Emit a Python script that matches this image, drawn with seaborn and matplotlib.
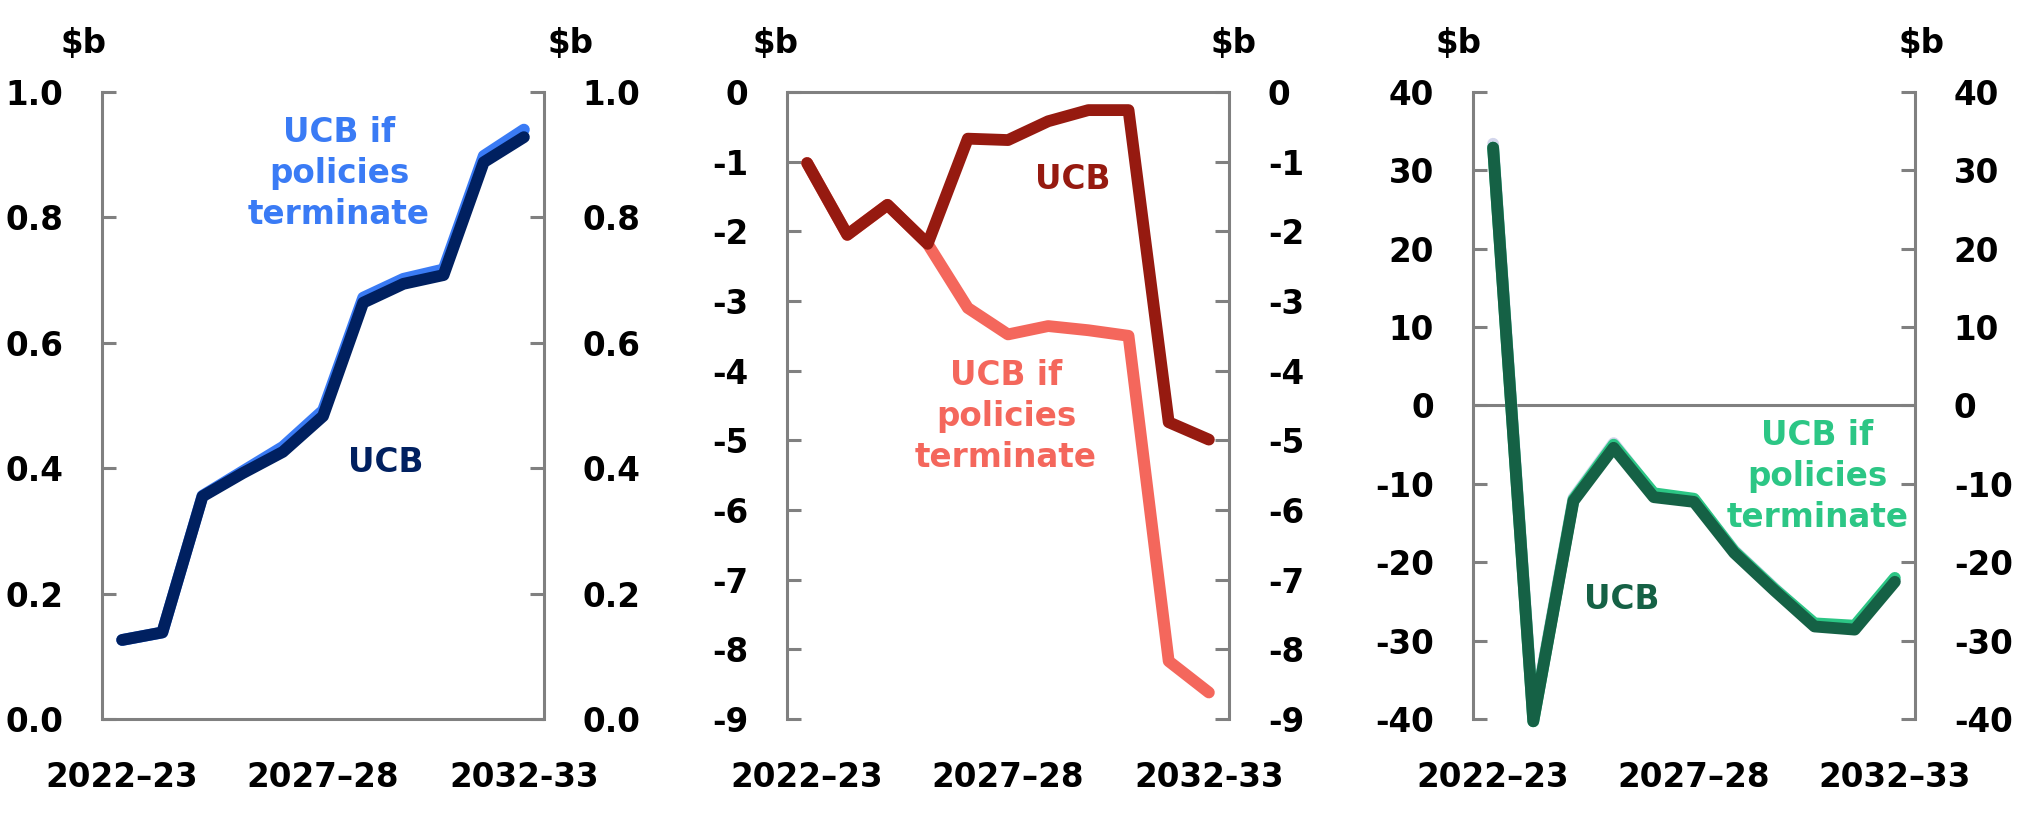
import matplotlib
matplotlib.use("Agg")
import matplotlib.pyplot as plt
import seaborn as sns
import numpy as np

# Data
years = list(range(11))
tick_pos = [0, 5, 10]
labels_a = ["2022–23", "2027–28", "2032-33"]
labels_c = ["2022–23", "2027–28", "2032–33"]

# Panel 1
p1_ucb = [0.126, 0.138, 0.355, 0.392, 0.426, 0.483, 0.664, 0.694, 0.708, 0.888, 0.928]
p1_term = [0.126, 0.138, 0.356, 0.395, 0.434, 0.492, 0.672, 0.702, 0.717, 0.898, 0.940]

# Panel 2
p2_ucb = [-1.02, -2.05, -1.62, -2.18, -0.67, -0.69, -0.42, -0.26, -0.26, -4.74, -4.99]
p2_term = [-1.02, -2.05, -1.62, -2.18, -3.10, -3.48, -3.36, -3.42, -3.50, -8.17, -8.62]

# Panel 3
p3_ucb = [32.9, -40.3, -12.2, -5.4, -11.7, -12.3, -18.8, -23.6, -28.2, -28.6, -22.5]
p3_term = [32.9, -40.3, -12.0, -5.0, -11.2, -11.9, -18.6, -23.4, -27.8, -28.1, -22.0]
p3_other = [33.4, -39.8, -11.8, -4.8, -11.3, -12.0, -18.5, -23.3, -28.0, -28.4, -22.3]

sns.set_style("white")
plt.rcParams["font.family"] = ["DejaVu Sans"]
plt.rcParams["font.weight"] = "bold"
plt.rcParams["axes.unicode_minus"] = False
plt.rcParams["text.color"] = "black"

FS = 23.5
GREY = "#808080"
LW = 8.5

fig = plt.figure(figsize=(20.17, 8.17), dpi=100)
lefts = [0.0506, 0.3902, 0.7303]
axes = [fig.add_axes([l, 0.12, 0.2191, 0.7674]) for l in lefts]


def draw(ax, y, color, z):
    sns.lineplot(x=years, y=y, ax=ax, color=color, linewidth=LW, zorder=z,
                 solid_capstyle="round", solid_joinstyle="round", clip_on=False)


def style_axis(ax, ylim, yticks, fmt, xlabels, spine_y):
    ax.set_xlim(-0.5, 10.5)
    ax.set_ylim(*ylim)
    ax.set_yticks(yticks)
    ax.set_yticklabels([fmt.format(v) for v in yticks])
    ax.set_xticks(tick_pos)
    ax.set_xticklabels(xlabels)
    for s in ["top", "bottom"]:
        ax.spines[s].set_visible(False)
    for s in ["left", "right"]:
        ax.spines[s].set_visible(True)
        ax.spines[s].set_color(GREY)
        ax.spines[s].set_linewidth(2.2)
    ax.axhline(spine_y, color=GREY, lw=2.2, zorder=1, clip_on=False)
    ax.tick_params(axis="y", which="both", direction="in", left=True, right=True,
                   labelleft=True, labelright=True, length=10, width=2.2,
                   color=GREY, labelcolor="black", pad=28, labelsize=FS)
    ax.tick_params(axis="x", length=0, pad=30, labelsize=FS, labelcolor="black")
    for lab in ax.get_xticklabels() + ax.get_yticklabels():
        lab.set_fontweight("bold")
    ax.set_xlabel("")
    ax.set_ylabel("")
    ax.grid(False)


def unit_labels(ax, xl, xr):
    ax.text(xl, 1.062, "$b", transform=ax.transAxes, ha="center", va="baseline",
            fontsize=FS, fontweight="bold")
    ax.text(xr, 1.062, "$b", transform=ax.transAxes, ha="center", va="baseline",
            fontsize=FS, fontweight="bold")


# Panel 1
ax = axes[0]
draw(ax, p1_term, "#3A7BF5", 3)
draw(ax, p1_ucb, "#002060", 4)
style_axis(ax, (0, 1.0), [0.0, 0.2, 0.4, 0.6, 0.8, 1.0], "{:.1f}", labels_a, 0)
ax.text(5.4, 0.87, "UCB if\npolicies\nterminate", ha="center", va="center",
        color="#3A7BF5", fontsize=FS, fontweight="bold", linespacing=1.3)
ax.text(6.55, 0.409, "UCB", ha="center", va="center", color="#002060",
        fontsize=FS, fontweight="bold")
unit_labels(ax, -0.042, 1.059)

# Panel 2
ax = axes[1]
draw(ax, p2_term, "#F4675C", 3)
draw(ax, p2_ucb, "#961A10", 4)
style_axis(ax, (-9, 0), list(range(-9, 1)), "{:d}", labels_a, 0)
ax.text(4.95, -4.66, "UCB if\npolicies\nterminate", ha="center", va="center",
        color="#F4675C", fontsize=FS, fontweight="bold", linespacing=1.3)
ax.text(6.6, -1.25, "UCB", ha="center", va="center", color="#961A10",
        fontsize=FS, fontweight="bold")
unit_labels(ax, -0.026, 1.01)

# Panel 3
ax = axes[2]
draw(ax, p3_other, "#D3D6EC", 2)
draw(ax, p3_term, "#2CC685", 3)
draw(ax, p3_ucb, "#156145", 4)
style_axis(ax, (-40, 40), list(range(-40, 41, 10)), "{:d}", labels_c, 0)
ax.text(8.07, -9.1, "UCB if\npolicies\nterminate", ha="center", va="center",
        color="#2CC685", fontsize=FS, fontweight="bold", linespacing=1.3)
ax.text(3.2, -24.7, "UCB", ha="center", va="center", color="#156145",
        fontsize=FS, fontweight="bold")
unit_labels(ax, -0.032, 1.014)

fig.savefig("out.png", dpi=100)
